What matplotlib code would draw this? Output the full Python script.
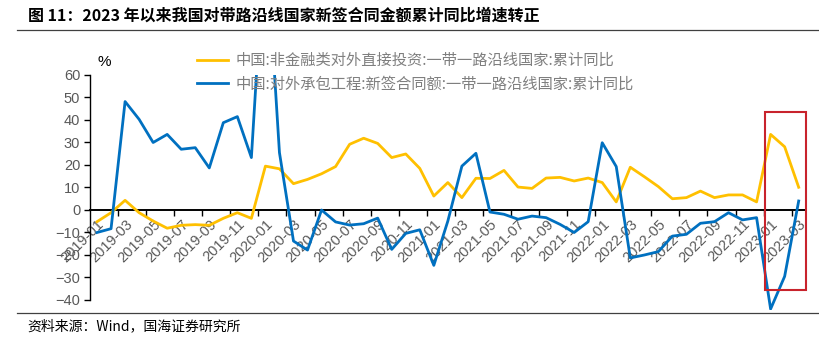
import matplotlib
matplotlib.use("Agg")
import matplotlib.pyplot as plt
from matplotlib.lines import Line2D
from matplotlib.patches import Rectangle
import numpy as np

plt.rcParams['font.family'] = ['Noto Sans CJK SC', 'DejaVu Sans']

# Monthly periods, 2019-01 .. 2023-03
months = [f"{y}-{m:02d}" for y in range(2019, 2024) for m in range(1, 13)][:51]

# 中国:非金融类对外直接投资:一带一路沿线国家:累计同比 (%)
odi_yoy = [-5.2, -1.2, 4.3, -1.2, -4.9, -8.1, -6.8, -6.5, -6.8, -3.7, -1.2, -3.7,
           19.5, 18.3, 11.7, 13.6, 16.1, 19.3, 29.2, 31.9, 29.6, 23.3, 24.9, 18.5,
           6.2, 12.2, 5.5, 14.1, 14.0, 17.6, 10.2, 9.6, 14.2, 14.5, 12.9, 14.2,
           12.2, 3.6, 19.0, 14.8, 10.4, 5.0, 5.5, 8.4, 5.5, 6.7, 6.7, 3.6,
           33.6, 28.1, 10.1]

# 中国:对外承包工程:新签合同额:一带一路沿线国家:累计同比 (%)
contract_yoy = [-10.0, -8.3, 48.2, 40.3, 30.0, 33.6, 27.0, 27.7, 18.7, 38.8, 41.5, 23.3,
                125.0, 25.5, -13.8, -17.8, 0.0, -5.3, -6.7, -6.1, -3.6, -17.5, -10.4, -8.8,
                -24.6, -4.9, 19.5, 25.2, -0.9, -1.9, -4.1, -2.7, -3.4, -6.4, -10.0, -5.2,
                29.9, 19.3, -21.3, -20.0, -18.5, -11.6, -10.8, -5.9, -5.2, -1.2, -4.4, -3.4,
                -44.0, -29.5, 4.0]

series_names = ["中国:非金融类对外直接投资:一带一路沿线国家:累计同比",
                "中国:对外承包工程:新签合同额:一带一路沿线国家:累计同比"]
y_ticks = list(range(-40, 61, 10))
highlight_from = "2023-01"
highlight_range = (-35.5, 43.5)

title = "图 11：2023 年以来我国对带路沿线国家新签合同金额累计同比增速转正"
source = "资料来源：Wind，国海证券研究所"

YELLOW = "#FFC000"
BLUE = "#0070C0"
GREY = "#595959"

W, H = 819, 347
fig = plt.figure(figsize=(W / 100, H / 100), dpi=100)
ax = fig.add_axes([90 / W, 1 - 300 / H, (805.7 - 90) / W, (300 - 75) / H])

x = np.arange(len(months))
ln_odi, = ax.plot(x, odi_yoy, color=YELLOW, lw=2.0, label=series_names[0], zorder=3)
ln_con, = ax.plot(x, contract_yoy, color=BLUE, lw=2.0, label=series_names[1], zorder=4)
# let the deep dip run slightly past the bottom of the plot area
for ln in (ln_odi, ln_con):
    ln.set_clip_path(Rectangle((0, -0.045), 1, 1.045, transform=ax.transAxes))

ax.set_xlim(-0.5, len(months) - 0.5)
ax.set_ylim(-40, 60)

for s in ("top", "right"):
    ax.spines[s].set_visible(False)
ax.spines["left"].set_color("black")
ax.spines["left"].set_linewidth(1.0)
ax.spines["bottom"].set_position(("data", 0))
ax.spines["bottom"].set_color("black")
ax.spines["bottom"].set_linewidth(1.4)
ax.spines["bottom"].set_zorder(2)

ax.set_yticks(y_ticks)
ax.tick_params(axis="y", direction="out", length=4, width=1.0, color="black",
               labelsize=10.5, labelcolor=GREY, pad=3)
for lab in ax.get_yticklabels():
    lab.set_fontfamily("Liberation Sans")

# tick marks between every second month, labels on every second month
ax.set_xticks(np.arange(1.5, len(months) - 1, 2))
ax.tick_params(axis="x", which="major", direction="out", length=4, width=1.0,
               color="black", labelbottom=False)
ax.set_xticks(x[::2], minor=True)
ax.set_xticklabels([months[i] for i in x[::2]], minor=True)
ax.tick_params(axis="x", which="minor", length=0, pad=5, labelsize=10.5,
               labelcolor=GREY)
for lab in ax.get_xticklabels(minor=True):
    lab.set_fontfamily("Liberation Sans")
    lab.set_rotation(45)
    lab.set_ha("right")
    lab.set_va("top")
    lab.set_rotation_mode("anchor")

ax.text(104 / W, 1 - 62 / H, "%", transform=fig.transFigure, fontsize=11,
        ha="center", va="center", fontfamily="Liberation Sans", color="black")

# highlight box around the latest months
hx0 = months.index(highlight_from) - 0.42
ax.add_patch(Rectangle((hx0, highlight_range[0]), len(months) - 0.5 - hx0,
                       highlight_range[1] - highlight_range[0],
                       fill=False, edgecolor="#C8232C", lw=1.5, zorder=5,
                       clip_on=False))

leg = ax.legend(loc="upper left", bbox_to_anchor=(197 / W, 1 - 52 / H),
                bbox_transform=fig.transFigure, frameon=False, fontsize=11,
                handlelength=2.05, handletextpad=0.45, labelspacing=0.42,
                borderpad=0, borderaxespad=0)
for t in leg.get_texts():
    t.set_color("#7F7F7F")
for h in leg.legend_handles:
    h.set_linewidth(2.0)

# title, rules and source note
fig.text(28 / W, 1 - 16 / H, title, fontsize=11.5, fontweight="bold",
         ha="left", va="center", color="black")
fig.add_artist(Line2D([17 / W, 1.0], [1 - 29.5 / H] * 2, color="#404040", lw=0.9))
fig.add_artist(Line2D([17 / W, 1.0], [1 - 313.3 / H] * 2, color="#404040", lw=0.9))
fig.text(27 / W, 1 - 326 / H, source, fontsize=10, ha="left", va="center",
         color="black")

fig.savefig("out.png", dpi=100)
